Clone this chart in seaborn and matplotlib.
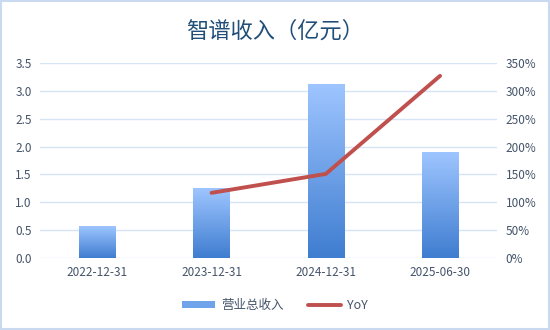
import numpy as np
import pandas as pd
import matplotlib
matplotlib.use("Agg")
import matplotlib.pyplot as plt
import seaborn as sns
from matplotlib.patches import Rectangle, Patch
from matplotlib.lines import Line2D
from matplotlib.colors import LinearSegmentedColormap

dates = ["2022-12-31", "2023-12-31", "2024-12-31", "2025-06-30"]
revenue = [0.57, 1.25, 3.12, 1.90]
yoy = [np.nan, 117, 151, 327]
left_ticks = [0.0, 0.5, 1.0, 1.5, 2.0, 2.5, 3.0, 3.5]
right_ticks = [0, 50, 100, 150, 200, 250, 300, 350]

sns.set_theme(style="white")
plt.rcParams['font.family'] = ['Noto Sans CJK SC', 'DejaVu Sans']

df = pd.DataFrame({"date": dates, "rev": revenue, "yoy": yoy})

fig = plt.figure(figsize=(5.5, 3.3), dpi=100)
fig.patch.set_facecolor("white")
ax = fig.add_axes([0.073, 0.218, 0.831, 0.591])
ax.set_facecolor("white")

sns.barplot(data=df, x="date", y="rev", ax=ax, width=0.32, color="#7FAEEA",
            edgecolor="none", zorder=2)

cmap = LinearSegmentedColormap.from_list("g", ["#3F7DD0", "#9EC5FF"])
grad = np.linspace(0, 1, 256).reshape(-1, 1)
for p in ax.patches:
    x0, y0 = p.get_x(), p.get_y()
    w, h = p.get_width(), p.get_height()
    im = ax.imshow(grad, cmap=cmap, origin="lower", aspect="auto",
                   extent=[x0, x0 + w, y0, y0 + h], zorder=3)
    im.set_clip_path(p)

ax.set_xlim(-0.5, 3.5)
ax.set_ylim(0, 3.5)
ax.set_yticks(left_ticks)
ax.set_yticklabels([f"{v:.1f}" for v in left_ticks])
ax.grid(axis="y", color="#D6E4F5", linewidth=1.0, zorder=0)
ax.set_axisbelow(True)
for s in ax.spines.values():
    s.set_visible(False)
ax.set_xlabel("")
ax.set_ylabel("")
ax.tick_params(axis="both", length=0, labelsize=8.5, colors="#44546A", pad=6)

ax2 = ax.twinx()
sns.lineplot(data=df, x="date", y="yoy", ax=ax2, color="#C0504D", linewidth=2.8,
             sort=False, zorder=4)
ax2.set_ylim(0, 350)
ax2.set_yticks(right_ticks)
ax2.set_yticklabels([f"{v}%" for v in right_ticks])
ax2.set_ylabel("")
ax2.set_xlabel("")
for s in ax2.spines.values():
    s.set_visible(False)
ax2.tick_params(axis="y", length=0, labelsize=8.5, colors="#44546A", pad=6)
ax2.grid(False)

fig.text(0.5, 0.905, "智谱收入（亿元）", ha="center", va="center",
         fontsize=16, color="#1F4E79")

handles = [Patch(facecolor="#6FA3EA", edgecolor="none"),
           Line2D([0], [0], color="#C0504D", linewidth=2.8)]
fig.legend(handles, ["营业总收入", "YoY"], loc="center", bbox_to_anchor=(0.5, 0.075),
           ncol=2, frameon=False, fontsize=9, labelcolor="#44546A",
           handlelength=2.6, handleheight=0.5, columnspacing=2.0, handletextpad=0.5)

fig.add_artist(Rectangle((0.002, 0.003), 0.996, 0.994, transform=fig.transFigure,
                         fill=False, edgecolor="#C9DAF0", linewidth=1.5))

fig.savefig("out.png", dpi=100)
